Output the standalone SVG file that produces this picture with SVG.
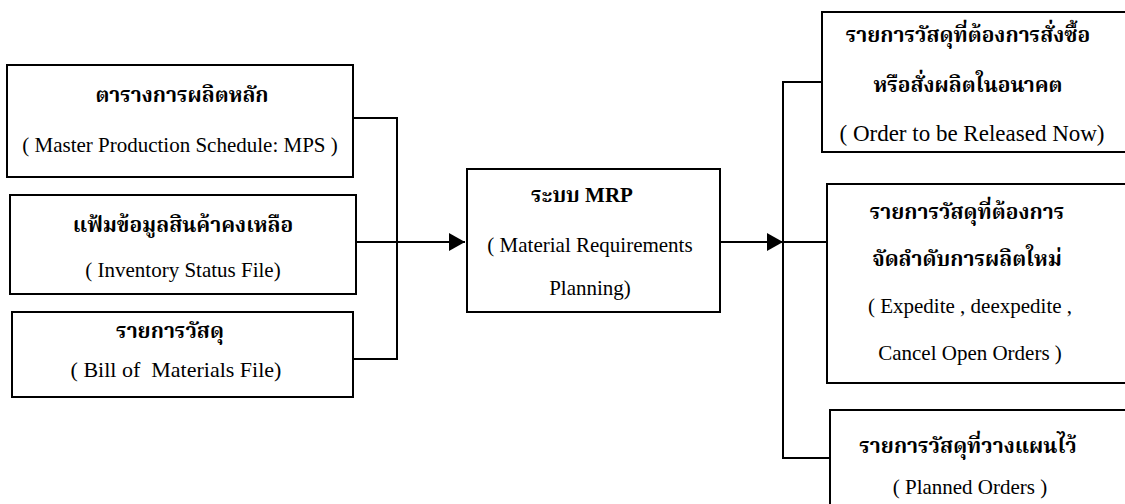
<svg xmlns="http://www.w3.org/2000/svg" width="1125" height="504" viewBox="0 0 1125 504">
<style>
.box{fill:#fff;stroke:#000;stroke-width:2}
.ln{fill:none;stroke:#000;stroke-width:2}
.en{font-family:"Liberation Serif","Times New Roman",serif;font-size:21px;fill:#000;text-anchor:middle;dominant-baseline:central}
.th{font-family:"Liberation Serif","Noto Serif Thai","Noto Sans Thai","Tlwg Typo","Garuda",serif;font-size:21px;font-weight:bold;fill:#000;text-anchor:middle;dominant-baseline:central}
</style>
<defs>
<marker id="arr" viewBox="0 0 16 18" refX="16" refY="9" markerWidth="16" markerHeight="18" markerUnits="userSpaceOnUse" orient="auto">
<path d="M0,0 L16,9 L0,18 Z" fill="#000"/>
</marker>
</defs>
<rect width="1125" height="504" fill="#fff"/>
<g id="connectors">
<path class="ln" d="M353,118 H397 V359 H353"/>
<path class="ln" d="M356,242 H465" marker-end="url(#arr)"/>
<path class="ln" d="M720,242 H783" marker-end="url(#arr)"/>
<path class="ln" d="M822,82 H783 V458 H830"/>
<path class="ln" d="M783,242 H827"/>
</g>
<g id="mps">
<rect class="box" x="7" y="65" width="346" height="112"/>
<text class="th" x="182" y="95">ตารางการผลิตหลัก</text>
<text class="en" x="180" y="145">( Master Production Schedule: MPS )</text>
</g>
<g id="inventory">
<rect class="box" x="10" y="195" width="346" height="99"/>
<text class="th" x="183" y="225">แฟ้มข้อมูลสินค้าคงเหลือ</text>
<text class="en" x="183" y="270">( Inventory Status File)</text>
</g>
<g id="bom">
<rect class="box" x="12" y="312" width="341" height="85"/>
<text class="th" x="170" y="331">รายการวัสดุ</text>
<text class="en" x="176" y="369" style="font-size:22px">( Bill of&#160; Materials File)</text>
</g>
<g id="mrp">
<rect class="box" x="467" y="169" width="253" height="143"/>
<text class="th" x="582" y="195">ระบบ MRP</text>
<text class="en" x="590" y="245">( Material Requirements</text>
<text class="en" x="590" y="288">Planning)</text>
</g>
<g id="release">
<rect class="box" x="822" y="12" width="310" height="140"/>
<text class="th" x="968" y="35">รายการวัสดุที่ต้องการสั่งซื้อ</text>
<text class="th" x="968" y="85">หรือสั่งผลิตในอนาคต</text>
<text class="en" x="972" y="133" style="font-size:23px">( Order to be Released Now)</text>
</g>
<g id="expedite">
<rect class="box" x="827" y="184" width="305" height="199"/>
<text class="th" x="967" y="212">รายการวัสดุที่ต้องการ</text>
<text class="th" x="967" y="259">จัดลำดับการผลิตใหม่</text>
<text class="en" x="970" y="306">( Expedite , deexpedite ,</text>
<text class="en" x="970" y="353">Cancel Open Orders )</text>
</g>
<g id="planned">
<rect class="box" x="830" y="410" width="302" height="110"/>
<text class="th" x="968" y="446">รายการวัสดุที่วางแผนไว้</text>
<text class="en" x="970" y="487">( Planned Orders )</text>
</g>
</svg>
